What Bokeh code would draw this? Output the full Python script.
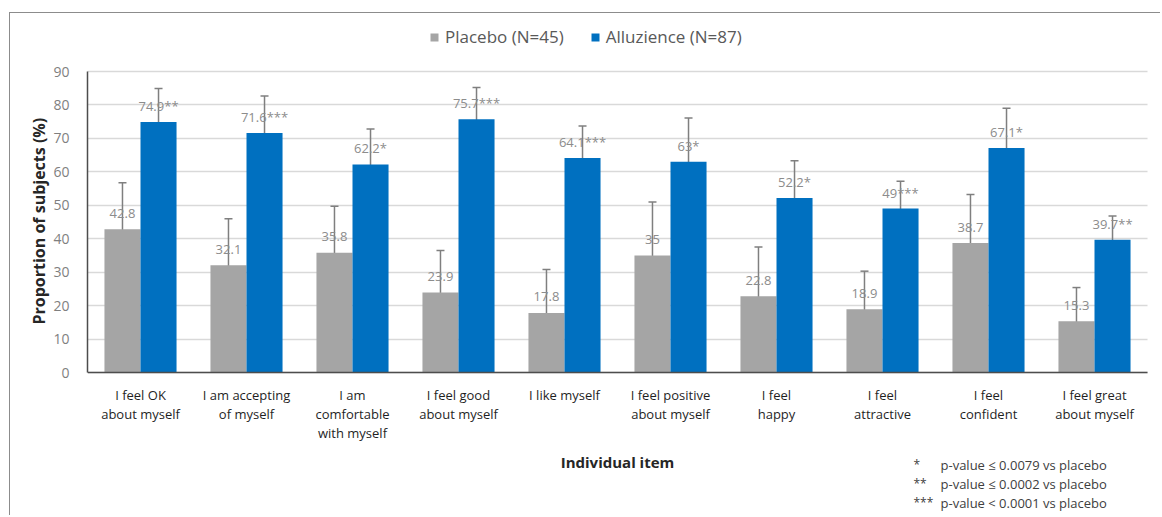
from bokeh.plotting import figure
from bokeh.models import (ColumnDataSource, Whisker, TeeHead, Legend, LegendItem, Label,
                          FixedTicker, Range1d, Title)
from bokeh.transform import dodge
from bokeh.embed import file_html
from bokeh.resources import INLINE
from bokeh.core.properties import value

# ---------------- data ----------------
items = ["I feel OK\nabout myself", "I am accepting\nof myself",
         "I am\ncomfortable\nwith myself", "I feel good\nabout myself",
         "I like myself", "I feel positive\nabout myself", "I feel\nhappy",
         "I feel\nattractive", "I feel\nconfident", "I feel great\nabout myself"]
placebo = [42.8, 32.1, 35.8, 23.9, 17.8, 35, 22.8, 18.9, 38.7, 15.3]
alluzience = [74.9, 71.6, 62.2, 75.7, 64.1, 63, 52.2, 49, 67.1, 39.7]
placebo_hi = [56.7, 46.0, 49.7, 36.5, 30.8, 51.0, 37.5, 30.3, 53.2, 25.4]
placebo_lo = [29.3, 17.6, 22.4, 10.9, 4.6, 19.4, 7.6, 7.1, 24.6, 4.9]
alluz_hi = [84.9, 82.7, 72.8, 85.2, 73.7, 76.1, 63.3, 57.2, 79.0, 46.8]
alluz_lo = [65.7, 61.3, 52.0, 66.5, 55.2, 50.5, 41.5, 41.2, 56.2, 32.7]
signif = ["**", "***", "*", "***", "***", "*", "*", "***", "*", "**"]
y_ticks = [0, 10, 20, 30, 40, 50, 60, 70, 80, 90]
legend_labels = ["Placebo (N=45)", "Alluzience (N=87)"]
x_title = "Individual item"
y_title = "Proportion of subjects (%)"
footnote_marks = ["*", "**", "***"]
footnote_texts = ["p-value \u2264 0.0079 vs placebo",
                  "p-value \u2264 0.0002 vs placebo",
                  "p-value < 0.0001 vs placebo"]

GRAY = "#A5A5A5"
BLUE = "#0070C0"
ERR = "#7F7F7F"
FONT = "Open Sans"

# ---------------- layout constants (pixels) ----------------
MARGIN_TOP, MARGIN_LEFT = 12, 9
W, H = 1151, 503
BORDER_L = 77
PX_X = 106.0            # pixels per category
PX_Y = 301.0 / 90.0     # pixels per unit on y
ZERO_FROM_TOP = 372 - (MARGIN_TOP + 1)   # y=0 position from canvas top
FRAME_W = W - BORDER_L
FRAME_BOTTOM = MARGIN_TOP + 1 + H
x_end = FRAME_W / PX_X
y_end = ZERO_FROM_TOP / PX_Y
y_start = -(H - ZERO_FROM_TOP) / PX_Y


def xd(px):  # page pixel -> x data
    return (px - (MARGIN_LEFT + 1 + BORDER_L)) / PX_X


def yd(py):  # page pixel -> y data
    return (372 - py) / PX_Y


n = len(items)
source = ColumnDataSource(dict(
    xc=[i + 0.5 for i in range(n)], item=items,
    placebo=placebo, alluzience=alluzience,
    p_hi=placebo_hi, p_lo=placebo_lo, a_hi=alluz_hi, a_lo=alluz_lo,
    zero=[0] * n,
    p_lab=[f"{v:g}" for v in placebo],
    a_lab=[f"{v:g}{s}" for v, s in zip(alluzience, signif)],
))

p = figure(x_range=Range1d(0, x_end), y_range=Range1d(y_start, y_end),
           width=W, height=H, x_axis_location=None,
           min_border_left=BORDER_L, min_border_right=0, min_border_top=0, min_border_bottom=0,
           output_backend="svg", toolbar_location=None)
p.margin = (MARGIN_TOP, 0, 0, MARGIN_LEFT)
p.styles = {"border-top": "1px solid #8c8c8c", "border-left": "1px solid #8c8c8c"}
p.outline_line_color = None

BW = 0.34
rp = p.vbar(x=dodge("xc", -BW / 2), top="placebo", width=BW,
            source=source, fill_color=GRAY, line_color=None)
ra = p.vbar(x=dodge("xc", BW / 2), top="alluzience", width=BW,
            source=source, fill_color=BLUE, line_color=None)

for off, hi, lo in [(-BW / 2, "p_hi", "p_lo"), (BW / 2, "a_hi", "a_lo")]:
    w = Whisker(base=dodge("xc", off), upper=hi, lower=lo, source=source,
                line_color=ERR, line_width=1.5,
                upper_head=TeeHead(size=8, line_color=ERR, line_width=1.5),
                lower_head=TeeHead(size=8, line_color=ERR, line_width=1.5))
    p.add_layout(w)

lab_kw = dict(text_align="center", text_baseline="middle", y_offset=-16,
              text_font=value(FONT), text_font_size="13px", text_color="#8C8C8C")
p.text(x=dodge("xc", -BW / 2), y="placebo", text="p_lab", source=source, **lab_kw)
p.text(x=dodge("xc", BW / 2), y="alluzience", text="a_lab", source=source, **lab_kw)

# x axis: baseline and category labels
p.segment(x0=0, x1=n, y0=0, y1=0, line_color="#4D4D4D", line_width=1.5)
p.text(x="xc", y="zero", text="item", source=source, text_align="center",
       text_baseline="top", y_offset=13, text_line_height=1.08,
       text_font=value(FONT), text_font_size="13px", text_color="#1F1F1F")

# y axis
p.xgrid.grid_line_color = None
p.ygrid.grid_line_color = "#D9D9D9"
p.ygrid.grid_line_width = 1.5
p.ygrid.cross_bounds = (0, n)
p.yaxis.ticker = FixedTicker(ticks=y_ticks)
p.yaxis.bounds = (0, 90)
p.yaxis.major_tick_line_color = None
p.yaxis.minor_tick_line_color = None
p.yaxis.axis_line_color = "#4D4D4D"
p.yaxis.axis_line_width = 1.5
p.yaxis.major_label_text_font = FONT
p.yaxis.major_label_text_color = "#7F7F7F"
p.yaxis.major_label_text_font_size = "14px"
p.yaxis.major_label_standoff = 12

p.add_layout(Title(text=y_title, align="left", offset=FRAME_BOTTOM - 324,
                   text_font=FONT, text_font_style="bold", text_font_size="16px",
                   text_color="#262626", standoff=2), "left")

legend = Legend(items=[LegendItem(label=legend_labels[0], renderers=[rp]),
                       LegendItem(label=legend_labels[1], renderers=[ra])],
                orientation="horizontal",
                location=(429 - (MARGIN_LEFT + 1 + BORDER_L), FRAME_BOTTOM - 48),
                glyph_width=10, glyph_height=10, label_standoff=6, spacing=26,
                padding=0, margin=0, border_line_color=None, background_fill_alpha=0,
                label_text_font=FONT, label_text_font_size="17px", label_text_color="#595959",
                label_height=20)
p.add_layout(legend, "center")

p.add_layout(Label(x=xd(617), y=yd(461), text=x_title, text_align="center",
                   text_baseline="middle", text_font=FONT, text_font_style="bold",
                   text_font_size="15px", text_color="#262626"))

for i, (m, t) in enumerate(zip(footnote_marks, footnote_texts)):
    py = 464 + 19 * i
    p.add_layout(Label(x=xd(913), y=yd(py), text=m, text_baseline="middle", text_font=FONT,
                       text_font_size="12px", text_color="#404040"))
    p.add_layout(Label(x=xd(940), y=yd(py), text=t, text_baseline="middle", text_font=FONT,
                       text_font_size="13px", text_color="#404040"))

open("out.html", "w").write(file_html(p, INLINE))
